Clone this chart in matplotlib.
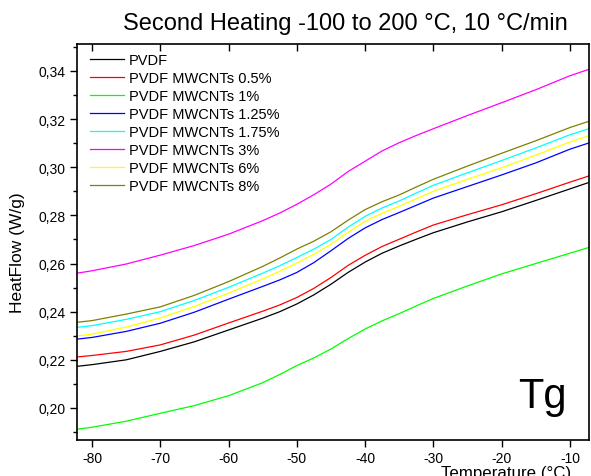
import matplotlib
matplotlib.use("Agg")
import matplotlib.pyplot as plt
from matplotlib.ticker import MultipleLocator, FuncFormatter

plt.rcParams['font.family'] = ['Liberation Sans', 'DejaVu Sans']
plt.rcParams['axes.unicode_minus'] = False

# Temperature grid (°C) and heat flow (W/g) for each sample
temp = [-82.2, -80, -75, -70, -65, -60, -55, -52.5, -50, -47.5, -45, -42.5, -40,
        -37.5, -35, -32.5, -30, -25, -20, -15, -10, -7.2]

pvdf = [0.2173, 0.2180, 0.2200, 0.2235, 0.2275, 0.2324, 0.2373, 0.2400, 0.2432, 0.2470,
        0.2514, 0.2563, 0.2606, 0.2643, 0.2673, 0.2701, 0.2728, 0.2773, 0.2815, 0.2862,
        0.2910, 0.2937]
cnt_05 = [0.2212, 0.2218, 0.2235, 0.2262, 0.2303, 0.2353, 0.2402, 0.2428, 0.2459, 0.2497,
          0.2542, 0.2592, 0.2634, 0.2671, 0.2701, 0.2731, 0.2760, 0.2803, 0.2844, 0.2890,
          0.2938, 0.2964]
cnt_1 = [0.1912, 0.1920, 0.1945, 0.1978, 0.2010, 0.2051, 0.2105, 0.2139, 0.2176, 0.2208,
         0.2245, 0.2288, 0.2328, 0.2362, 0.2392, 0.2424, 0.2455, 0.2507, 0.2557, 0.2600,
         0.2643, 0.2667]
cnt_125 = [0.2286, 0.2293, 0.2318, 0.2352, 0.2398, 0.2452, 0.2505, 0.2532, 0.2563, 0.2604,
           0.2653, 0.2704, 0.2748, 0.2783, 0.2812, 0.2842, 0.2872, 0.2920, 0.2968, 0.3018,
           0.3075, 0.3101]
cnt_175 = [0.2335, 0.2342, 0.2368, 0.2400, 0.2447, 0.2501, 0.2560, 0.2591, 0.2625, 0.2660,
           0.2700, 0.2751, 0.2796, 0.2831, 0.2860, 0.2893, 0.2925, 0.2977, 0.3028, 0.3080,
           0.3135, 0.3160]
cnt_3 = [0.2560, 0.2570, 0.2598, 0.2635, 0.2675, 0.2722, 0.2778, 0.2810, 0.2846, 0.2886,
         0.2930, 0.2982, 0.3025, 0.3068, 0.3102, 0.3132, 0.3160, 0.3215, 0.3268, 0.3322,
         0.3380, 0.3407]
cnt_6 = [0.2299, 0.2307, 0.2336, 0.2374, 0.2422, 0.2477, 0.2536, 0.2568, 0.2602, 0.2639,
         0.2680, 0.2730, 0.2775, 0.2809, 0.2838, 0.2869, 0.2900, 0.2950, 0.2998, 0.3050,
         0.3105, 0.3131]
cnt_8 = [0.2356, 0.2363, 0.2390, 0.2420, 0.2468, 0.2525, 0.2588, 0.2623, 0.2660, 0.2693,
         0.2732, 0.2780, 0.2824, 0.2857, 0.2885, 0.2918, 0.2950, 0.3005, 0.3058, 0.3110,
         0.3165, 0.3191]

labels = ["PVDF", "PVDF MWCNTs 0.5%", "PVDF MWCNTs 1%", "PVDF MWCNTs 1.25%",
          "PVDF MWCNTs 1.75%", "PVDF MWCNTs 3%", "PVDF MWCNTs 6%", "PVDF MWCNTs 8%"]
series = [pvdf, cnt_05, cnt_1, cnt_125, cnt_175, cnt_3, cnt_6, cnt_8]
colors = ["#000000", "#FF0000", "#00FF00", "#0000FF",
          "#00FFFF", "#FF00FF", "#FFFF00", "#808000"]

W, H = 591, 477
fig = plt.figure(figsize=(W / 100, H / 100), dpi=100)
ax = fig.add_axes([77 / W, 36 / H, 512 / W, 396 / H])

for y, c, lab in zip(series, colors, labels):
    ax.plot(temp, y, color=c, lw=0.9, label=lab)

ax.set_xlim(-82.2, -7.2)
ax.set_ylim(0.1867, 0.3512)

ax.xaxis.set_major_locator(MultipleLocator(10))
ax.yaxis.set_major_locator(MultipleLocator(0.02))
ax.yaxis.set_minor_locator(MultipleLocator(0.01))
ax.yaxis.set_major_formatter(FuncFormatter(lambda v, p: f"{v:.2f}".replace(".", ",")))

ax.tick_params(axis='x', which='major', direction='out', length=5, width=1,
               labelsize=10, pad=3, top=False)
ax.tick_params(axis='y', which='major', direction='out', length=5, width=1,
               labelsize=10, pad=3, right=False)
ax.tick_params(axis='y', which='minor', direction='out', length=3, width=1, right=False)

# inward ticks along the top spine
top = ax.secondary_xaxis('top')
top.xaxis.set_major_locator(MultipleLocator(10))
top.tick_params(direction='in', length=5, width=1, labeltop=False)
top.spines['top'].set_visible(False)

for s in ax.spines.values():
    s.set_linewidth(1.2)

ax.legend(loc='upper left', bbox_to_anchor=(0.0254, 0.978), frameon=False,
          fontsize=10.5, labelspacing=0.28, handlelength=2.3, handletextpad=0.35,
          borderpad=0, borderaxespad=0)

ax.text(0.861, 0.0833, "Tg", transform=ax.transAxes, fontsize=30, va='baseline')

fig.text(345 / W, 1 - 30 / H, "Second Heating -100 to 200 °C, 10 °C/min",
         fontsize=17, ha='center', va='baseline')
fig.text(18 / W, 1 - 253 / H, "HeatFlow (W/g)", fontsize=12.5, rotation=90,
         ha='center', va='center')
fig.text(506 / W, -0.002, "Temperature (°C)", fontsize=12.2, ha='center', va='baseline')

fig.savefig("out.png", dpi=100)
